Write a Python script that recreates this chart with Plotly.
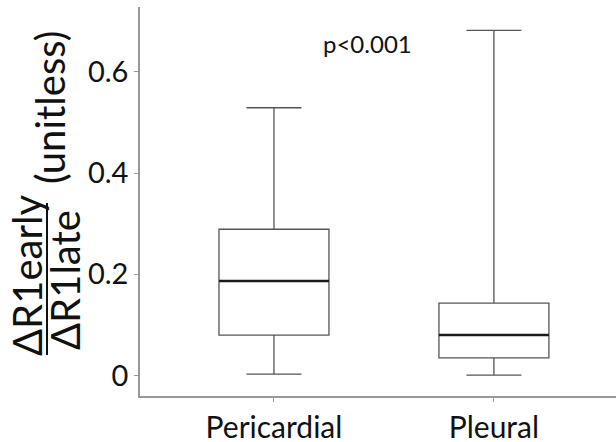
import plotly.graph_objects as go

categories = ["Pericardial", "Pleural"]
lower_whisker = [0.003, 0.001]
q1 = [0.080, 0.035]
median = [0.187, 0.080]
q3 = [0.289, 0.143]
upper_whisker = [0.529, 0.682]
y_ticks = [0, 0.2, 0.4, 0.6]
y_tick_labels = ["0", "0.2", "0.4", "0.6"]
p_text = "p<0.001"

FONT = "Lato"
W, H = 616, 442
L, R, T, B = 140, 0, 7, 46
pw, ph = W - L - R, H - T - B

def xp(px):
    return (px - L) / pw

def yp(py):
    return (H - B - py) / ph

fig = go.Figure()
for i, c in enumerate(categories):
    fig.add_trace(go.Box(
        x=[c], q1=[q1[i]], median=[median[i]], q3=[q3[i]],
        lowerfence=[lower_whisker[i]], upperfence=[upper_whisker[i]],
        width=0.5, whiskerwidth=0.5, boxpoints=False,
        fillcolor="rgba(0,0,0,0)", line=dict(color="#555555", width=1.3),
        showlegend=False, hoverinfo="skip",
    ))
    fig.add_shape(type="line", xref="x", yref="y",
                  x0=i - 0.25, x1=i + 0.25, y0=median[i], y1=median[i],
                  line=dict(color="#1a1a1a", width=2.5))

fig.add_annotation(x=1 - 0.575, y=0.655, xref="x", yref="y", text=p_text,
                   showarrow=False, font=dict(family=FONT, size=24, color="#111"))

# y-axis title: fraction + (unitless)
fig.add_annotation(x=xp(27), y=yp(276), xref="paper", yref="paper", text="ΔR1early",
                   textangle=-90, showarrow=False, xanchor="center", yanchor="middle",
                   font=dict(family=FONT, size=40, color="#111"))
fig.add_annotation(x=xp(65), y=yp(280), xref="paper", yref="paper", text="ΔR1late",
                   textangle=-90, showarrow=False, xanchor="center", yanchor="middle",
                   font=dict(family=FONT, size=40, color="#111"))
fig.add_shape(type="line", xref="paper", yref="paper",
              x0=xp(47), x1=xp(47), y0=yp(203), y1=yp(355),
              line=dict(color="#111", width=2))
fig.add_annotation(x=xp(50), y=yp(108), xref="paper", yref="paper", text="(unitless)",
                   textangle=-90, showarrow=False, xanchor="center", yanchor="middle",
                   font=dict(family=FONT, size=40, color="#111"))

fig.update_layout(
    width=W, height=H, margin=dict(l=L, r=R, t=T, b=B),
    paper_bgcolor="white", plot_bgcolor="white",
    font=dict(family=FONT, size=28, color="#111"),
    xaxis=dict(type="category", range=[-0.609, 1.555], showline=True, linecolor="#999",
               linewidth=1.5, ticks="outside", ticklen=4, tickcolor="#999",
               showgrid=False, zeroline=False, tickfont=dict(size=30), automargin=False),
    yaxis=dict(range=[-0.0403, 0.728], tickvals=y_ticks, ticktext=y_tick_labels,
               showline=True, linecolor="#999", linewidth=1.5, ticks="outside",
               ticklen=4, tickcolor="#999", showgrid=False, zeroline=False,
               tickfont=dict(size=29), automargin=False),
)
fig.write_html("out.html")
